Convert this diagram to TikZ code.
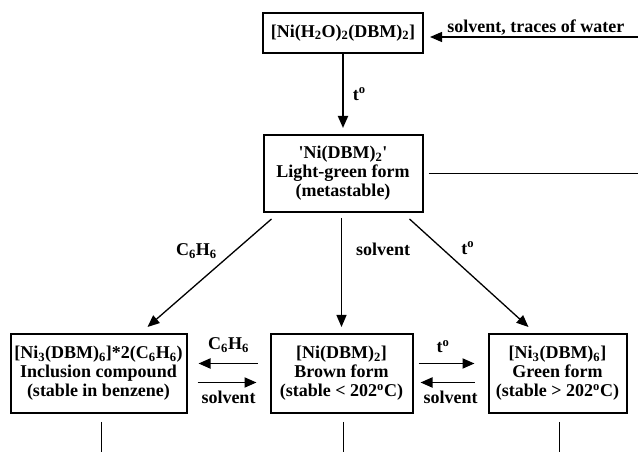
\documentclass[tikz,border=0pt]{standalone}
\usepackage{fontspec}
\setmainfont{Liberation Serif}
\usetikzlibrary{positioning,calc,arrows.meta}
\newcommand{\tdeg}{t\textsuperscript{o}}
\newcommand{\benz}{C\textsubscript{6}H\textsubscript{6}}
\newcommand{\degc}{\textsuperscript{o}C}

\begin{document}
\begin{tikzpicture}[x=1pt, y=1pt,
	every node/.style={font=\bfseries\fontsize{18}{19}\selectfont},
	box/.style={draw, line width=2pt, align=center, inner sep=0pt, minimum height=79pt},
	lbl/.style={inner sep=1pt},
	arr/.style={line width=1.9pt, -{Triangle[length=12pt,width=10pt]}},
	diag/.style={line width=1.3pt, -{Triangle[length=12pt,width=10pt]}},
	lead/.style={line width=0.9pt}]
	\useasboundingbox (0,0) rectangle (638,452);

	\node[box, minimum width=160pt, minimum height=40pt] (hydr) at (343,419) {[Ni(H\textsubscript{2}O)\textsubscript{2}(DBM)\textsubscript{2}]};
	\node[box, minimum width=159pt, minimum height=77pt, below=80pt of hydr] (lgreen) {\textquotesingle Ni(DBM)\textsubscript{2}\textquotesingle\\Light-green form\\(metastable)};
	\node[box, minimum width=142pt, below=120pt of lgreen, xshift=-1.5pt] (brown) {[Ni(DBM)\textsubscript{2}]\\Brown form\\(stable < 202\degc)};
	\node[box, minimum width=176pt, left=82pt of brown] (incl) {[Ni\textsubscript{3}(DBM)\textsubscript{6}]*2(\benz)\\Inclusion compound\\(stable in benzene)};
	\node[box, minimum width=138pt, right=74pt of brown] (green) {[Ni\textsubscript{3}(DBM)\textsubscript{6}]\\Green form\\(stable > 202\degc)};

	\coordinate (wet) at ($(hydr.east)+(215,-4)$);
	\coordinate (lgout) at ($(lgreen.east)+(215.5,0)$);
	\coordinate (lg1) at ($(lgreen.south west)+(9,-6)$);
	\coordinate (lg3) at ($(lgreen.south east)+(-14,-6)$);
	\coordinate (in1) at ($(incl.north east)+(-40,6)$);
	\coordinate (gr1) at ($(green.north west)+(41,6)$);
	\coordinate (inclend) at ($(incl.south)+(3,-43)$);
	\coordinate (brownend) at ($(brown.south)+(2,-43)$);
	\coordinate (greenend) at ($(green.south)+(2,-43)$);

	\draw[arr, line width=1.2pt, shorten >=6pt] (wet) -- ([yshift=-4pt]hydr.east) node[lbl, pos=.48, above=0pt] {solvent, traces of water};
	\draw[arr, shorten >=6pt] (hydr) -- (lgreen) node[lbl, midway, right=8pt] {\tdeg};
	\draw[lead, shorten <=5pt] (lgreen.east) -- (lgout);

	\draw[diag] (lg1) -- (in1) node[lbl, pos=.3, left=16pt] {\benz};
	\draw[diag, shorten <=5pt, shorten >=6pt] (lgreen.south -| brown.north) -- (brown.north) node[lbl, pos=.3, right=13pt] {solvent};
	\draw[diag] (lg3) -- (gr1) node[lbl, pos=.27, right=18pt] {\tdeg};

	\draw[arr, shorten <=12pt, shorten >=11pt] ([yshift=10pt]brown.west) -- ([yshift=10pt]incl.east) node[lbl, midway, above=9pt] {\benz};
	\draw[arr, shorten <=10pt, shorten >=13pt] ([yshift=-9pt]incl.east) -- ([yshift=-9pt]brown.west) node[lbl, midway, below=7pt] {solvent};
	\draw[arr, shorten <=5pt, shorten >=13pt] ([yshift=10pt]brown.east) -- ([yshift=10pt]green.west) node[lbl, pos=.4, above=9pt] {\tdeg};
	\draw[arr, shorten <=13pt, shorten >=7pt] ([yshift=-9pt]green.west) -- ([yshift=-9pt]brown.east) node[lbl, midway, below=7pt] {solvent};

	\draw[lead, shorten <=8pt] ([xshift=3pt]incl.south) -- (inclend);
	\draw[lead, shorten <=8pt] ([xshift=2pt]brown.south) -- (brownend);
	\draw[lead, shorten <=8pt] ([xshift=2pt]green.south) -- (greenend);
\end{tikzpicture}
\end{document}
